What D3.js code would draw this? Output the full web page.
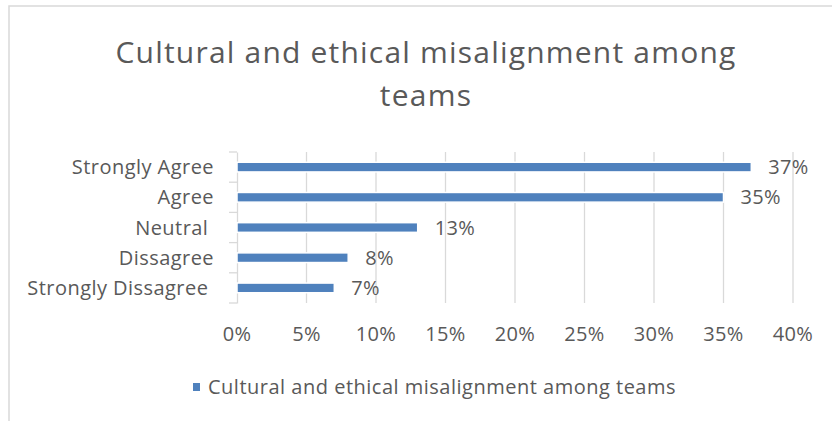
<!DOCTYPE html>
<html>
<head>
<meta charset="utf-8">
<script src="https://cdn.jsdelivr.net/npm/d3@7"></script>
<style>
  body { margin: 0; background: #fff; }
  svg { display: block; font-family: "Open Sans", Lato, sans-serif; }
</style>
</head>
<body>
<svg width="832" height="421"></svg>
<script>
const categories = ["Strongly Agree", "Agree", "Neutral ", "Dissagree", "Strongly Dissagree "];
const values = [37, 35, 13, 8, 7];
const xTicks = [0, 5, 10, 15, 20, 25, 30, 35, 40];
const titleLines = ["Cultural and ethical misalignment among", "teams"];
const seriesName = "Cultural and ethical misalignment among teams";

const svg = d3.select("svg");
const width = +svg.attr("width");
const height = +svg.attr("height");
const margin = { top: 152, right: 39, bottom: 118, left: 237 };
const innerWidth = width - margin.left - margin.right;
const innerHeight = height - margin.top - margin.bottom;
const textColor = "#595959";
const gridColor = "#d9d9d9";
const barColor = "#4f81bd";

// chart frame (left and top edges only, the rest is outside the picture)
svg.append("path")
  .attr("d", `M9,${height}V6H${width}`)
  .attr("fill", "none")
  .attr("stroke", gridColor)
  .attr("stroke-width", 1.5);

// title
svg.append("g").selectAll("text")
  .data(titleLines)
  .join("text")
  .attr("x", 426)
  .attr("y", (d, i) => 63 + i * 43)
  .attr("text-anchor", "middle")
  .attr("fill", textColor)
  .style("font-size", "30px")
  .style("letter-spacing", "1.2px")
  .text(d => d);

const x = d3.scaleLinear().domain([0, 40]).range([0, innerWidth]);
const y = d3.scaleBand().domain(categories).range([0, innerHeight]).paddingInner(0.68).paddingOuter(0.34);
const band = d3.scaleBand().domain(categories).range([0, innerHeight]);

const g = svg.append("g")
  .attr("transform", `translate(${margin.left},${margin.top})`);

// gridlines
g.append("g").selectAll("line")
  .data(xTicks.slice(1))
  .join("line")
  .attr("x1", d => x(d)).attr("x2", d => x(d))
  .attr("y1", 0).attr("y2", innerHeight)
  .attr("stroke", gridColor)
  .attr("stroke-width", 1.3);

// category axis
const yAxis = g.append("g")
  .call(d3.axisLeft(band).tickSize(0).tickFormat(""));
yAxis.select(".domain").attr("stroke", gridColor).attr("stroke-width", 1.3);
yAxis.append("g").selectAll("line")
  .data(d3.range(categories.length + 1))
  .join("line")
  .attr("x1", -8).attr("x2", 0)
  .attr("y1", i => i * band.step()).attr("y2", i => i * band.step())
  .attr("stroke", gridColor)
  .attr("stroke-width", 1.3);

g.append("g").selectAll("text")
  .data(categories)
  .join("text")
  .attr("x", -23)
  .attr("y", d => band(d) + band.bandwidth() / 2 + 7)
  .attr("text-anchor", "end")
  .attr("fill", textColor)
  .style("font-size", "20px")
  .style("letter-spacing", "0.45px")
  .style("white-space", "pre")
  .text(d => d);

// bars
g.append("g").selectAll("rect")
  .data(categories)
  .join("rect")
  .attr("x", 0)
  .attr("y", d => y(d))
  .attr("width", (d, i) => x(values[i]))
  .attr("height", y.bandwidth())
  .attr("fill", barColor)
  .attr("stroke", "#fff")
  .attr("stroke-width", 1.5);

// value labels
g.append("g").selectAll("text")
  .data(categories)
  .join("text")
  .attr("x", (d, i) => x(values[i]) + 17)
  .attr("y", d => band(d) + band.bandwidth() / 2 + 7)
  .attr("fill", textColor)
  .style("font-size", "20px")
  .style("letter-spacing", "0.3px")
  .text((d, i) => values[i] + "%");

// x axis labels
g.append("g").selectAll("text")
  .data(xTicks)
  .join("text")
  .attr("x", d => x(d))
  .attr("y", innerHeight + 38)
  .attr("text-anchor", "middle")
  .attr("fill", textColor)
  .style("font-size", "20px")
  .style("letter-spacing", "0.3px")
  .text(d => d + "%");

// legend
const legend = svg.append("g").attr("transform", "translate(193,387)");
legend.append("rect")
  .attr("x", 0).attr("y", -4)
  .attr("width", 7).attr("height", 8)
  .attr("fill", barColor);
legend.append("text")
  .attr("x", 15)
  .attr("y", 7)
  .attr("fill", textColor)
  .style("font-size", "20px")
  .style("letter-spacing", "0.5px")
  .text(seriesName);
</script>
</body>
</html>
